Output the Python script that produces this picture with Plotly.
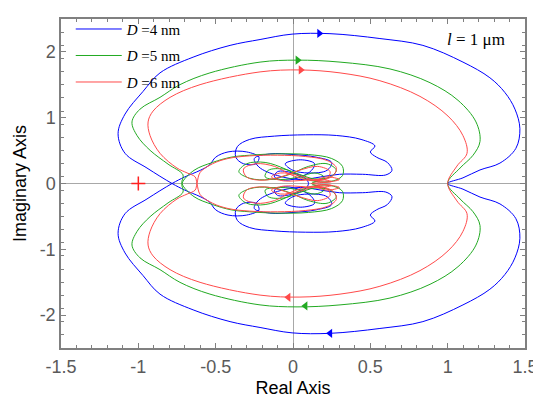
import plotly.graph_objects as go

# ---------------- data ----------------
series_names = ["<i>D</i> =4 nm", "<i>D</i> =5 nm", "<i>D</i> =6 nm"]
series_colors = ["#0000ff", "#22aa22", "#ff4a4a"]

# upper outer branch, from real-axis crossing to (1, 0)
blue_outer_re = [-0.782, -0.944, -1.086, -1.131, -1.086, -0.970, -0.860, -0.646, -0.407, -0.213, -0.006, 0.239, 0.562, 0.840, 1.099, 1.273, 1.370, 1.435, 1.467, 1.441, 1.338, 1.209, 1.099, 1.0]
blue_outer_im = [0.0, 0.235, 0.459, 0.757, 1.055, 1.398, 1.681, 1.920, 2.099, 2.188, 2.270, 2.277, 2.203, 2.099, 1.845, 1.607, 1.383, 1.130, 0.832, 0.534, 0.310, 0.206, 0.086, 0.0]
green_outer_re = [-0.718, -0.711, -0.808, -0.924, -1.008, -1.041, -0.989, -0.860, -0.731, -0.537, -0.213, 0.026, 0.304, 0.627, 0.886, 1.067, 1.183, 1.209, 1.164, 1.080, 1.0]
green_outer_im = [0.0, 0.131, 0.295, 0.504, 0.727, 0.936, 1.130, 1.309, 1.502, 1.681, 1.845, 1.875, 1.845, 1.741, 1.532, 1.264, 0.936, 0.638, 0.429, 0.235, 0.0]
red_outer_re = [-0.621, -0.633, -0.685, -0.750, -0.860, -0.924, -0.937, -0.905, -0.795, -0.601, -0.213, 0.045, 0.304, 0.562, 0.821, 1.002, 1.099, 1.125, 1.060, 1.0]
red_outer_im = [0.0, 0.101, 0.161, 0.235, 0.459, 0.727, 0.936, 1.100, 1.309, 1.502, 1.696, 1.726, 1.681, 1.562, 1.324, 1.025, 0.727, 0.459, 0.265, 0.0]

# inner loops in the upper half, continuing from the crossing point
blue_inner_re = [-0.70, -0.60, -0.54, -0.50, -0.42, -0.30, -0.22, -0.24, -0.32, -0.37, -0.36, -0.28, -0.12, 0.08, 0.28, 0.44, 0.53, 0.50, 0.54, 0.61, 0.64, 0.60, 0.45, 0.30, 0.18, 0.05, -0.10, -0.22, -0.25, -0.15, 0.0, 0.15, 0.25, 0.22, 0.10, 0.0, -0.05, 0.05, 0.14, 0.12, 0.05, -0.05, -0.12, -0.10, 0.0, 0.08, 0.10]
blue_inner_im = [0.10, 0.20, 0.28, 0.40, 0.48, 0.48, 0.40, 0.30, 0.30, 0.40, 0.56, 0.67, 0.72, 0.74, 0.73, 0.67, 0.57, 0.48, 0.40, 0.32, 0.20, 0.13, 0.14, 0.14, 0.10, 0.06, 0.12, 0.25, 0.38, 0.45, 0.44, 0.40, 0.32, 0.20, 0.16, 0.20, 0.30, 0.36, 0.30, 0.20, 0.10, 0.05, 0.10, 0.18, 0.16, 0.08, 0.0]
green_inner_re = [-0.64, -0.52, -0.40, -0.28, -0.10, 0.10, 0.25, 0.32, 0.32, 0.26, 0.15, 0.05, -0.05, -0.18, -0.30, -0.35, -0.28, -0.15, -0.02, 0.10, 0.22, 0.28, 0.24, 0.14, 0.04, -0.06, -0.16, -0.18, -0.08, 0.04, 0.14, 0.20, 0.15, 0.12]
green_inner_im = [0.20, 0.32, 0.40, 0.43, 0.45, 0.44, 0.38, 0.26, 0.12, 0.04, 0.03, 0.10, 0.22, 0.32, 0.30, 0.18, 0.08, 0.06, 0.14, 0.26, 0.30, 0.20, 0.10, 0.07, 0.14, 0.22, 0.20, 0.10, 0.06, 0.10, 0.16, 0.10, 0.03, 0.0]
red_inner_re = [-0.60, -0.52, -0.42, -0.28, -0.10, 0.08, 0.22, 0.28, 0.26, 0.18, 0.08, -0.02, -0.12, -0.24, -0.32, -0.30, -0.20, -0.08, 0.04, 0.16, 0.24, 0.22, 0.14, 0.22, 0.30, 0.20, 0.12, 0.04, -0.08, -0.14, -0.06, 0.08, 0.18, 0.25, 0.16, 0.12]
red_inner_im = [0.17, 0.30, 0.38, 0.42, 0.43, 0.41, 0.35, 0.24, 0.12, 0.05, 0.06, 0.14, 0.26, 0.30, 0.22, 0.10, 0.05, 0.10, 0.20, 0.26, 0.18, 0.08, 0.04, 0.10, 0.06, 0.02, 0.06, 0.12, 0.16, 0.10, 0.04, 0.05, 0.06, 0.03, 0.01, 0.0]

# direction arrows on the outer branches (top: rightwards, bottom: leftwards)
arrow_top_re = [0.17, 0.03, 0.05]
arrow_top_im = [2.28, 1.875, 1.726]
arrow_bot_re = [0.24, 0.08, -0.03]
arrow_bot_im = [-2.277, -1.86, -1.73]

critical_re = [-1.0]
critical_im = [0.0]

x_tick_vals = [-1.5, -1, -0.5, 0, 0.5, 1, 1.5]
x_tick_text = ["-1.5", "-1", "-0.5", "0", "0.5", "1", "1.5"]
y_tick_vals = [-2, -1, 0, 1, 2]
y_tick_text = ["-2", "-1", "0", "1", "2"]


def full_curve(o_re, o_im, i_re, i_im):
    # omega > 0 half: lower outer branch (conjugate of upper outer, reversed) then inner loops
    h_re = list(reversed(o_re)) + list(i_re)
    h_im = [-v for v in reversed(o_im)] + list(i_im)
    # omega < 0 half is the complex conjugate, traversed in reverse
    n_re = list(reversed(h_re))[:-1]
    n_im = [-v for v in reversed(h_im)][:-1]
    return n_re + h_re, n_im + h_im


fig = go.Figure()
curves = [
    (blue_outer_re, blue_outer_im, blue_inner_re, blue_inner_im),
    (green_outer_re, green_outer_im, green_inner_re, green_inner_im),
    (red_outer_re, red_outer_im, red_inner_re, red_inner_im),
]
for k, (ore, oim, ire, iim) in enumerate(curves):
    xs, ys = full_curve(ore, oim, ire, iim)
    fig.add_trace(go.Scatter(
        x=xs, y=ys, mode="lines", name=series_names[k],
        line=dict(color=series_colors[k], width=1, shape="spline", smoothing=1.0),
        legendgroup=f"g{k}",
    ))

for k in range(3):
    fig.add_trace(go.Scatter(
        x=[arrow_top_re[k]], y=[arrow_top_im[k]], mode="markers", showlegend=False,
        marker=dict(symbol="triangle-right", size=8, color=series_colors[k]),
    ))
    fig.add_trace(go.Scatter(
        x=[arrow_bot_re[k]], y=[arrow_bot_im[k]], mode="markers", showlegend=False,
        marker=dict(symbol="triangle-left", size=8, color=series_colors[k]),
    ))

fig.add_trace(go.Scatter(
    x=critical_re, y=critical_im, mode="markers", showlegend=False,
    marker=dict(symbol="cross-thin", size=10, line=dict(color="#ff2020", width=1.5)),
))

axis_common = dict(
    showline=True, linecolor="#808080", linewidth=1.5, mirror="allticks",
    ticks="inside", ticklen=5, tickcolor="#808080", tickwidth=1,
    showgrid=False, zeroline=True, zerolinecolor="#a8a8a8", zerolinewidth=1,
    automargin=False,
    tickfont=dict(family="Liberation Sans, Arial, sans-serif", size=18, color="#5a5a5a"),
    title_font=dict(family="Liberation Sans, Arial, sans-serif", size=18, color="#000000"),
)

# the page body adds an 8px offset, so the figure is sized to fit the window
fig.update_layout(
    width=533, height=390,
    margin=dict(l=53, r=16, t=5, b=50),
    paper_bgcolor="white", plot_bgcolor="white",
    xaxis=dict(range=[-1.5, 1.5], tickmode="array", tickvals=x_tick_vals, ticktext=x_tick_text,
               title=dict(text="Real Axis", standoff=6), ticklabelstandoff=2,
               minor=dict(tickmode="linear", tick0=-1.5, dtick=0.1, ticks="inside", ticklen=3, tickcolor="#808080"),
               **axis_common),
    yaxis=dict(range=[-2.5, 2.5], tickmode="array", tickvals=y_tick_vals, ticktext=y_tick_text,
               title=dict(text="Imaginary Axis", standoff=8),
               minor=dict(tickmode="linear", tick0=-2.5, dtick=0.2, ticks="inside", ticklen=3, tickcolor="#808080"),
               **axis_common),
    legend=dict(x=0.021, y=1.019, xanchor="left", yanchor="top", bgcolor="rgba(0,0,0,0)",
                font=dict(family="Liberation Serif, Times New Roman, serif", size=15, color="#000000"),
                tracegroupgap=4, itemwidth=46),
    annotations=[dict(
        xref="paper", yref="paper", x=0.962, y=0.937, xanchor="right", yanchor="middle",
        text="<i>l</i> = 1 μm", showarrow=False,
        font=dict(family="Liberation Serif, Times New Roman, serif", size=17, color="#000000"),
    )],
)

fig.write_html("out.html")
